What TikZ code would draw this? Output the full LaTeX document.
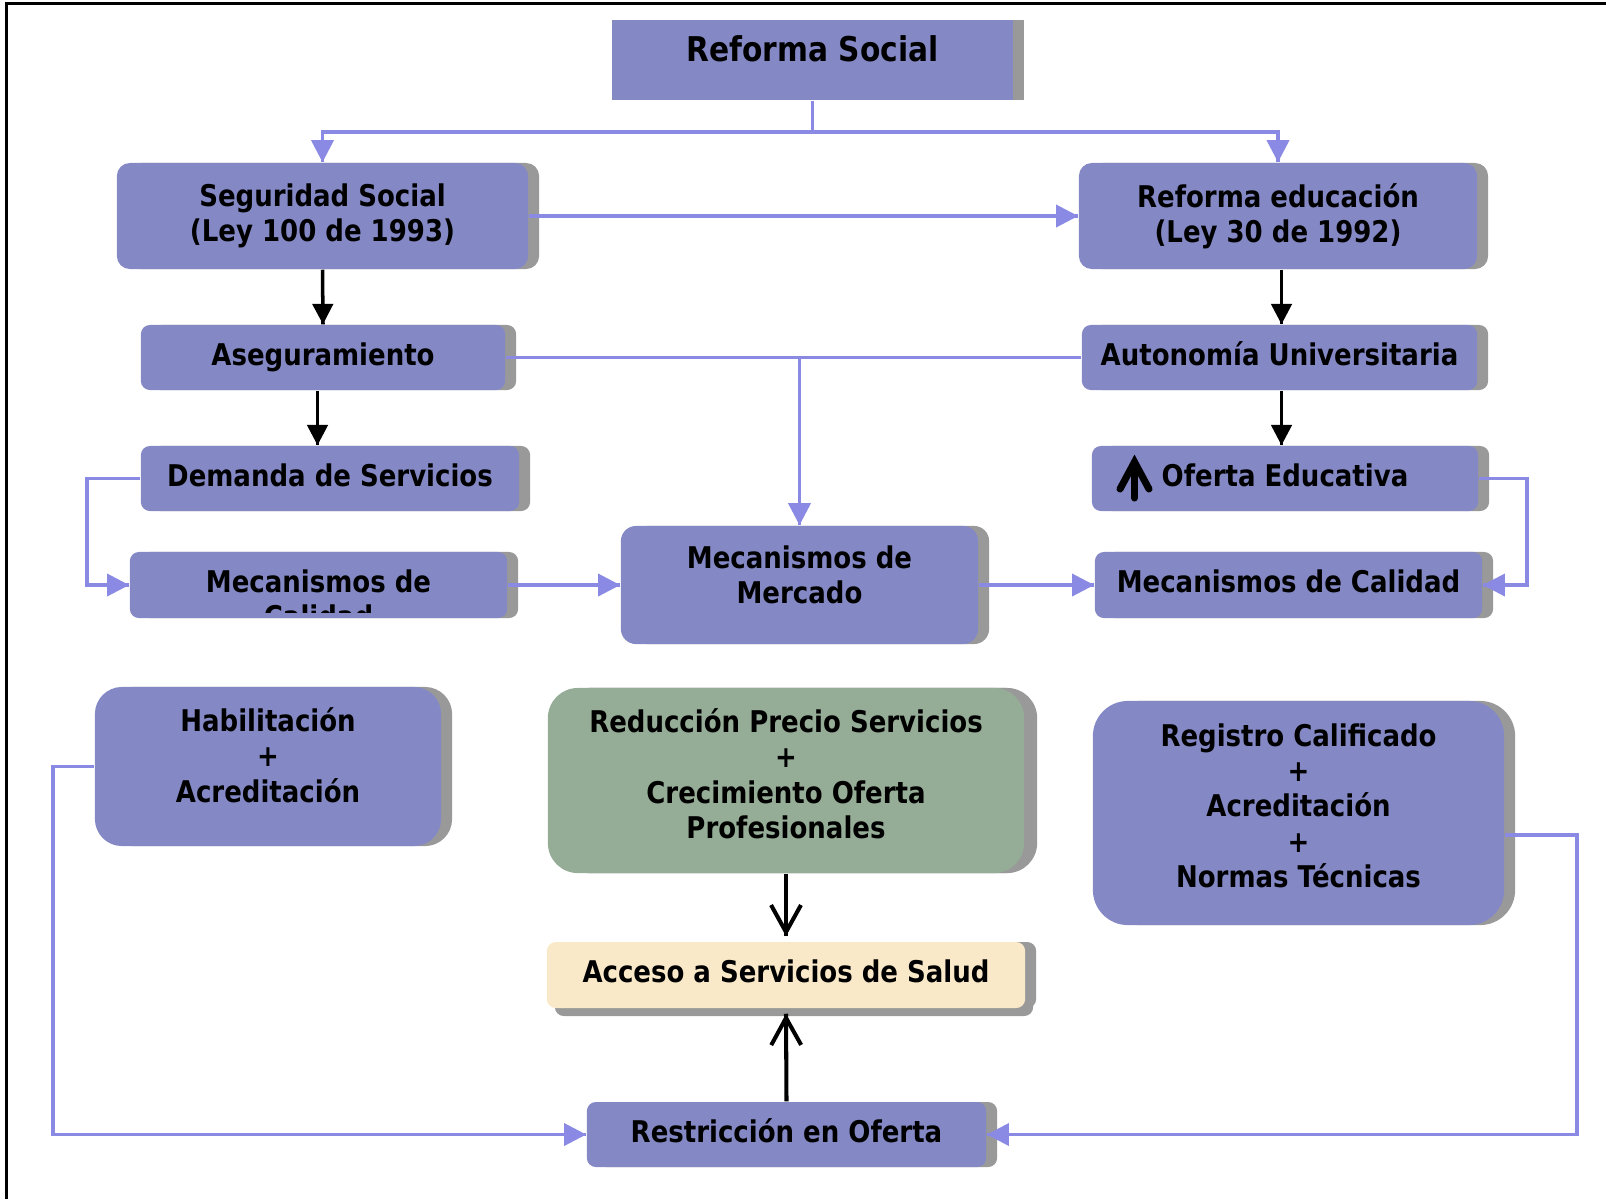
\documentclass[tikz,border=0pt]{standalone}
\usepackage{fontspec}
\setmainfont{DejaVu Sans}[FakeStretch=0.87]
\usepackage{tikz}
\usetikzlibrary{arrows.meta}
\usetikzlibrary{decorations.markings}
\usetikzlibrary{shadows}
\definecolor{boxblue}{RGB}{132,137,198}
\definecolor{lineblue}{RGB}{138,138,228}
\definecolor{shadowgray}{RGB}{153,153,153}
\definecolor{boxgreen}{RGB}{149,172,150}
\definecolor{boxcream}{RGB}{250,233,200}
\newcommand{\lowstrut}[1]{\rule[-#1]{0pt}{#1}}
\tikzset{bluearr/.style = {lineblue, line width = 0.95pt,
                           decoration={markings,
                                       mark=at position 1 with {\arrow{Triangle[length=6.3pt, width=6.3pt]}}},
                           postaction={decorate}}}
\tikzset{blueline/.style = {lineblue, line width = 0.95pt}}
\tikzset{blackarr/.style = {black, line width = 1pt,
                            decoration={markings,
                                        mark=at position 1 with {\arrow{Triangle[length=5.8pt, width=5.8pt]}}},
                            postaction={decorate}}}
\tikzset{openarr/.style = {black, line width = 1.15pt,
                           decoration={markings,
                                       mark=at position 1 with {\arrow{Straight Barb[length=7.7pt, width=8.5pt]}}},
                           postaction={decorate}}}
\tikzset{box/.style = {fill=boxblue, rounded corners=0.09cm, inner sep=0, align=center,
                       font=\bfseries\fontsize{8.5pt}{10pt}\selectfont,
                       drop shadow={shadow xshift=0.11cm, shadow yshift=0cm, opacity=1, fill=shadowgray}}}
\tikzset{oneline/.style = {text height=0.22cm, text depth=0.07cm}}
\tikzset{txt/.style = {inner sep=0, font=\bfseries\fontsize{8.5pt}{10pt}\selectfont}}

\begin{document}
\begin{tikzpicture}[x=0.01cm, y=-0.01cm]
    \useasboundingbox (0,0) rectangle (1606,1199);
    \draw [line width=0.85pt] (6.5,1199) -- (6.5,3.5) -- (1606,3.5);

    \node [box, rounded corners=0, minimum width=4.01cm, minimum height=0.8cm,
           font=\bfseries\fontsize{9.7pt}{11pt}\selectfont, text height=0.26cm, text depth=0.23cm]
          (social) at (812.5,60) {Reforma Social};

    \node [box, rounded corners=0.13cm, minimum width=4.11cm, minimum height=1.06cm] (segur) at (322.5,216) {Seguridad Social\\(Ley 100 de 1993)};
    \node [box, rounded corners=0.13cm, minimum width=3.98cm, minimum height=1.06cm] (educ) at (1278,216) {Reforma educación\\(Ley 30 de 1992)};

    \node [box, oneline, minimum width=3.64cm, minimum height=0.65cm] (aseg) at (323,357.5) {Aseguramiento};
    \node [box, oneline, minimum width=3.95cm, minimum height=0.65cm] (auto) at (1279.5,357.5) {Autonomía Universitaria};

    \node [box, oneline, minimum width=3.78cm, minimum height=0.65cm] (demanda) at (330,478.5) {Demanda de Servicios};
    \node [box, oneline, minimum width=3.86cm, minimum height=0.65cm] (oferta) at (1285,478.5) {Oferta Educativa};
    \draw [line width=2pt, line cap=round] (1134.5,498) -- (1134.5,464);
    \draw [line width=2pt, line cap=round] (1120,489) -- (1134.5,462) -- (1149,489);

    \node [box, minimum width=3.77cm, minimum height=0.66cm] (mechl) at (318.5,585) {};
    \begin{scope}
        \clip (mechl.north west) rectangle ([yshift=0.06cm]mechl.south east);
        \node [txt, anchor=base] (mechltop) at (318.5,592) {Mecanismos de};
        \node [txt, anchor=base] (mechlbot) at (318.5,627) {Calidad};
    \end{scope}
    \node [box, rounded corners=0.15cm, minimum width=3.57cm, minimum height=1.18cm] (mercado) at (799.5,585) {Mecanismos de\\Mercado\lowstrut{0.2cm}};
    \node [box, oneline, minimum width=3.87cm, minimum height=0.66cm] (mechr) at (1288.5,585) {Mecanismos de Calidad};

    \node [box, rounded corners=0.27cm, minimum width=3.46cm, minimum height=1.59cm] (habil) at (268,766.5) {Habilitación\\+\\Acreditación\lowstrut{0.23cm}};
    \node [box, fill=boxgreen, rounded corners=0.3cm, minimum width=4.76cm, minimum height=1.85cm,
           drop shadow={shadow xshift=0.13cm, shadow yshift=0cm, opacity=1, fill=shadowgray}]
          (reduccion) at (786,780.5) {Reducción Precio Servicios\\+\\Crecimiento Oferta\\Profesionales\lowstrut{0.14cm}};
    \node [box, rounded corners=0.35cm, minimum width=4.11cm, minimum height=2.24cm] (registro) at (1298.5,813) {Registro Calificado\\+\\Acreditación\\+\\Normas Técnicas\lowstrut{0.15cm}};

    \node [box, oneline, fill=boxcream, minimum width=4.78cm, minimum height=0.66cm,
           drop shadow={shadow xshift=0.08cm, shadow yshift=-0.08cm, opacity=1, fill=shadowgray}]
          (acceso) at (786,975) {Acceso a Servicios de Salud};
    \node [box, oneline, minimum width=3.99cm, minimum height=0.65cm] (restric) at (786.5,1134.5) {Restricción en Oferta};

    \coordinate (split) at (812.5,132);
    \coordinate (lbend) at (87,478.5);
    \coordinate (rbend) at (1527,478.5);
    \coordinate (hbend) at (53,766.5);
    \coordinate (gbend) at (1577,835);
    \coordinate (lcol) at (317.5,0);
    \coordinate (rcol) at (1281.5,0);

    \draw [bluearr] (social.south) -- (split) -| (segur.north);
    \draw [bluearr] (split) -| (educ.north);
    \draw [bluearr] (segur.east) -- (educ.west);
    \draw [blueline] (aseg.east) -- (auto.west);
    \draw [bluearr] (aseg.east -| mercado.north) -- (mercado.north);
    \draw [bluearr] (demanda.west) -- (lbend) |- (mechl.west);
    \draw [bluearr] (mechl.east) -- (mercado.west);
    \draw [bluearr] (mercado.east) -- (mechr.west);
    \draw [bluearr] (oferta.east) -- (rbend) |- (mechr.east);
    \draw [bluearr] (habil.west) -- (hbend) |- (restric.west);
    \draw [bluearr] (gbend -| registro.east) -- (gbend) |- (restric.east);

    \draw [blackarr] (segur.south) -- (aseg.north);
    \draw [blackarr] (aseg.south -| lcol) -- (demanda.north -| lcol);
    \draw [blackarr] (educ.south -| rcol) -- (auto.north -| rcol);
    \draw [blackarr] (auto.south -| rcol) -- (oferta.north -| rcol);
    \draw [openarr] (reduccion.south) -- ([yshift=0.05cm]acceso.north);
    \draw [openarr] (restric.north) -- ([yshift=-0.05cm]acceso.south);
\end{tikzpicture}
\end{document}
